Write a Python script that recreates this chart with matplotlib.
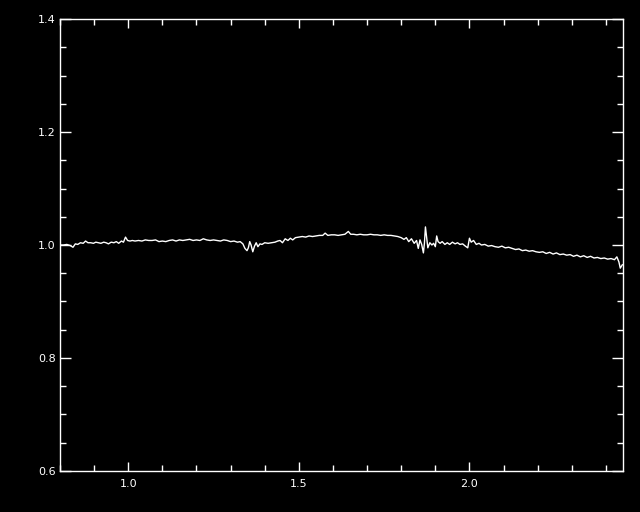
#!/usr/bin/env python3

import numpy as np
import matplotlib
matplotlib.use('Agg')
import matplotlib.pyplot as plt
from matplotlib.ticker import MultipleLocator

# wavelength (micron) and normalised flux
wave = [0.800, 0.810, 0.820, 0.830, 0.838, 0.845, 0.852, 0.860, 0.868, 0.875,
        0.882, 0.890, 0.898, 0.905, 0.912, 0.920, 0.928, 0.935, 0.942, 0.950,
        0.958, 0.965, 0.972, 0.980, 0.986, 0.992, 0.998, 1.005, 1.012, 1.020,
        1.030, 1.040, 1.050, 1.060, 1.070, 1.080, 1.090, 1.100, 1.110, 1.120,
        1.130, 1.140, 1.150, 1.160, 1.170, 1.180, 1.190, 1.200, 1.210, 1.220,
        1.230, 1.240, 1.250, 1.260, 1.270, 1.280, 1.290, 1.300, 1.310, 1.320,
        1.328, 1.336, 1.342, 1.348, 1.352, 1.356, 1.360, 1.365, 1.370, 1.375,
        1.380, 1.386, 1.392, 1.400, 1.410, 1.420, 1.430, 1.438, 1.445, 1.452,
        1.460, 1.468, 1.475, 1.482, 1.490, 1.500, 1.510, 1.520, 1.530, 1.540,
        1.550, 1.560, 1.570, 1.577, 1.585, 1.595, 1.605, 1.615, 1.625, 1.635,
        1.645, 1.652, 1.660, 1.670, 1.680, 1.690, 1.700, 1.710, 1.720, 1.730,
        1.740, 1.750, 1.760, 1.770, 1.780, 1.790, 1.800, 1.808, 1.815, 1.822,
        1.830, 1.838, 1.845, 1.850, 1.855, 1.860, 1.865, 1.868, 1.871, 1.875,
        1.878, 1.884, 1.890, 1.895, 1.900, 1.904, 1.908, 1.914, 1.920, 1.928,
        1.935, 1.942, 1.950, 1.958, 1.965, 1.972, 1.980, 1.988, 1.995, 2.000,
        2.005, 2.012, 2.020, 2.028, 2.035, 2.045, 2.055, 2.065, 2.075, 2.085,
        2.095, 2.105, 2.115, 2.125, 2.135, 2.145, 2.155, 2.165, 2.175, 2.185,
        2.195, 2.205, 2.215, 2.225, 2.235, 2.245, 2.255, 2.265, 2.275, 2.285,
        2.295, 2.305, 2.315, 2.325, 2.335, 2.345, 2.355, 2.365, 2.375, 2.385,
        2.395, 2.405, 2.415, 2.425, 2.432, 2.438, 2.442, 2.448]
flux = [1.000, 1.000, 1.001, 0.999, 0.996, 1.002, 1.001, 1.004, 1.003, 1.007,
        1.004, 1.004, 1.003, 1.005, 1.004, 1.003, 1.005, 1.004, 1.002, 1.005,
        1.004, 1.006, 1.003, 1.007, 1.005, 1.014, 1.008, 1.007, 1.008, 1.007,
        1.008, 1.007, 1.009, 1.008, 1.008, 1.009, 1.006, 1.007, 1.006, 1.008,
        1.009, 1.007, 1.009, 1.008, 1.009, 1.010, 1.008, 1.009, 1.008, 1.011,
        1.009, 1.008, 1.009, 1.008, 1.007, 1.009, 1.008, 1.006, 1.007, 1.005,
        1.006, 1.002, 0.994, 0.990, 0.995, 1.006, 1.000, 0.988, 0.998, 1.004,
        0.997, 1.002, 1.001, 1.004, 1.003, 1.004, 1.005, 1.007, 1.008, 1.004,
        1.011, 1.008, 1.012, 1.009, 1.013, 1.014, 1.015, 1.014, 1.016, 1.015,
        1.016, 1.017, 1.017, 1.021, 1.017, 1.018, 1.018, 1.017, 1.018, 1.019,
        1.024, 1.019, 1.019, 1.018, 1.019, 1.018, 1.018, 1.019, 1.018, 1.018,
        1.017, 1.018, 1.017, 1.017, 1.016, 1.015, 1.013, 1.010, 1.013, 1.006,
        1.011, 1.003, 1.008, 0.994, 1.009, 1.001, 0.986, 1.003, 1.032, 1.010,
        0.995, 1.004, 1.000, 1.003, 0.997, 1.016, 1.006, 1.003, 1.006, 1.001,
        1.004, 1.001, 1.005, 1.002, 1.004, 1.001, 1.002, 0.998, 0.995, 1.012,
        1.005, 1.008, 1.001, 1.003, 1.000, 1.001, 0.998, 0.999, 0.997, 0.996,
        0.998, 0.995, 0.996, 0.994, 0.992, 0.993, 0.990, 0.991, 0.989, 0.990,
        0.988, 0.987, 0.988, 0.985, 0.987, 0.984, 0.986, 0.983, 0.984, 0.982,
        0.983, 0.980, 0.982, 0.979, 0.981, 0.978, 0.980, 0.977, 0.978, 0.976,
        0.977, 0.975, 0.976, 0.974, 0.979, 0.970, 0.959, 0.965]

xticks = [1.0, 1.5, 2.0]
yticks = [0.6, 0.8, 1.0, 1.2, 1.4]

plt.rcParams['font.family'] = 'DejaVu Sans'

fig = plt.figure(figsize=(6.4, 5.12), dpi=100, facecolor='black')
ax = fig.add_axes([60/640, 41/512, 563/640, 452/512], facecolor='black')

ax.plot(wave, flux, color='white', lw=1.0)

ax.set_xlim(0.8, 2.45)
ax.set_ylim(0.6, 1.4)
ax.set_xticks(xticks)
ax.set_yticks(yticks)
ax.set_xticklabels(['%.1f' % t for t in xticks])
ax.set_yticklabels(['%.1f' % t for t in yticks])
ax.xaxis.set_minor_locator(MultipleLocator(0.1))
ax.yaxis.set_minor_locator(MultipleLocator(0.05))

for s in ax.spines.values():
	s.set_color('white')
	s.set_linewidth(1.0)

ax.tick_params(which='both', direction='in', colors='white', top=True, right=True, labelsize=8, width=1.0)
ax.tick_params(axis='x', which='major', length=6.5, pad=6)
ax.tick_params(axis='y', which='major', length=8, pad=3)
ax.tick_params(which='minor', length=4)

fig.savefig('out.png', dpi=100, facecolor='black')
